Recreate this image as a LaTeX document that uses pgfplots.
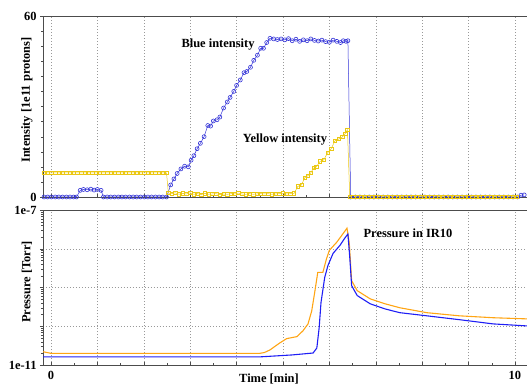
\documentclass[border=0pt]{standalone}
\usepackage{fontspec}
\setmainfont{Liberation Serif}
\usepackage{pgfplots}
\pgfplotsset{compat=1.18}
\definecolor{bl}{RGB}{50,50,215}
\definecolor{yl}{RGB}{235,200,20}
\definecolor{po}{RGB}{255,165,20}
\definecolor{pb}{RGB}{30,30,245}
\begin{document}
\begin{tikzpicture}
\path[use as bounding box] (0bp,0bp) rectangle (527bp,386bp);
\pgfplotsset{myax/.style={scale only axis, width=484bp, xmin=-0.172, xmax=10.26,
  axis x line*=box, axis y line*=left, xtick={0,...,10}, minor x tick num=1,
  xmajorgrids, grid style={dash pattern=on 0.8pt off 2.2pt, black!40},
  axis line style={black!70}, tick style={black!70},
  tick label style={font=\fontsize{12.5}{13}\selectfont\bfseries},
  xticklabel style={yshift=-3bp},
  /pgf/number format/assume math mode=true,
  xtick pos=bottom, ytick pos=left, xtick align=inside, ytick align=outside,
  major tick length=3bp, minor tick length=2bp, clip=false}}
% ---------- top panel ----------
\begin{axis}[myax, at={(43bp,189bp)}, anchor=south west, height=181bp,
  ymin=0, ymax=60, ytick={0,60}, minor ytick={5,10,...,55}, xticklabels={}]
\addplot[bl, line width=0.5pt, mark=o, mark size=2pt, mark options={line width=0.6pt}] coordinates {
(-0.15,0) (-0.07,0) (0.01,0) (0.09,0) (0.17,0) (0.25,0) (0.33,0) (0.41,0) (0.49,0) (0.55,0)
(0.63,2.2) (0.70,2.5) (0.78,2.4) (0.86,2.6) (0.93,2.3) (1.0,2.5) (1.08,2.2)
(1.13,0) (1.21,0) (1.29,0) (1.37,0) (1.45,0) (1.53,0) (1.61,0) (1.69,0) (1.77,0) (1.85,0)
(1.93,0) (2.01,0) (2.09,0) (2.17,0) (2.25,0) (2.33,0) (2.41,0) (2.49,0)
(2.58,4.0) (2.65,6.0) (2.72,7.8) (2.80,9.3) (2.88,10.2) (2.96,10.0) (3.02,12.2) (3.08,13.7)
(3.15,16.0) (3.22,17.8) (3.30,20.0) (3.38,23.7) (3.44,23.5) (3.50,25.2) (3.58,25.6) (3.64,26.5)
(3.72,29.5) (3.80,31.5) (3.86,33.0) (3.94,35.0) (4.00,37.0) (4.08,38.8) (4.16,41.2) (4.22,41.6)
(4.30,43.0) (4.37,45.3) (4.45,47.0) (4.52,49.3) (4.58,49.3) (4.65,51.2) (4.72,52.6) (4.80,52.4)
(4.88,52.2) (4.96,52.4) (5.04,52.1) (5.12,52.5) (5.20,51.8) (5.28,52.3) (5.36,51.6) (5.44,52.1)
(5.52,51.8) (5.60,52.4) (5.68,51.9) (5.76,51.7) (5.84,52.0) (5.92,51.5) (6.00,51.3) (6.08,52.0)
(6.16,51.6) (6.24,51.2) (6.30,51.8) (6.36,51.6) (6.40,51.8)
(6.46,0) (6.56,0) (6.66,0) (6.76,0) (6.86,0) (6.96,0) (7.06,0) (7.16,0) (7.26,0) (7.36,0)
(7.46,0) (7.56,0) (7.66,0) (7.76,0) (7.86,0) (7.96,0) (8.06,0) (8.16,0) (8.26,0) (8.36,0)
(8.46,0) (8.56,0) (8.66,0) (8.76,0) (8.86,0) (8.96,0) (9.06,0) (9.16,0) (9.26,0) (9.36,0)
(9.46,0) (9.56,0) (9.66,0) (9.76,0) (9.86,0) (9.96,0) (10.06,0) (10.13,0.6) (10.2,0.7)
};
\addplot[yl, line width=0.5pt, mark=square, mark size=1.7pt, mark options={line width=0.6pt}] coordinates {
(-0.15,8) (-0.07,8) (0.01,8) (0.09,8) (0.17,8) (0.25,8) (0.33,8) (0.41,8) (0.49,8) (0.57,8)
(0.65,8) (0.73,8) (0.81,8) (0.89,8) (0.97,8) (1.05,8) (1.13,8) (1.21,8) (1.29,8) (1.37,8)
(1.45,8) (1.53,8) (1.61,8) (1.69,8) (1.77,8) (1.85,8) (1.93,8) (2.01,8) (2.09,8) (2.17,8)
(2.25,8) (2.33,8) (2.41,8) (2.49,8)
(2.53,1.3) (2.60,1.1) (2.68,1.4) (2.76,0.9) (2.84,1.2) (2.92,1.0) (3.00,1.4) (3.08,0.9)
(3.16,1.1) (3.24,0.8) (3.32,1.2) (3.40,0.9) (3.48,1.0) (3.56,1.1) (3.64,0.8) (3.72,1.0)
(3.80,0.9) (3.88,1.1) (3.96,1.0) (4.04,1.3) (4.12,1.0) (4.20,0.9) (4.28,1.1) (4.36,0.9)
(4.44,1.0) (4.52,1.1) (4.60,1.0) (4.68,1.1) (4.76,0.9) (4.84,1.0) (4.92,1.1) (5.00,1.2)
(5.08,1.0) (5.16,1.1) (5.24,1.2)
(5.32,3.5) (5.40,4.0) (5.47,6.4) (5.53,7.0) (5.60,8.0) (5.66,9.6) (5.72,10.0) (5.80,11.8)
(5.88,12.3) (5.96,14.6) (6.04,16.0) (6.12,18.6) (6.20,19.2) (6.28,19.9) (6.34,21.0) (6.39,22.3)
(6.44,0) (6.52,0) (6.60,0) (6.68,0) (6.76,0) (6.84,0) (6.92,0) (7.00,0) (7.08,0) (7.16,0)
(7.24,0) (7.32,0) (7.40,0) (7.48,0) (7.56,0) (7.64,0) (7.72,0) (7.80,0) (7.88,0) (7.96,0)
(8.04,0) (8.12,0) (8.20,0) (8.28,0) (8.36,0) (8.44,0) (8.52,0) (8.60,0) (8.68,0) (8.76,0)
(8.84,0) (8.92,0) (9.00,0) (9.08,0) (9.16,0) (9.24,0) (9.32,0) (9.40,0) (9.48,0) (9.56,0)
(9.64,0) (9.72,0) (9.80,0) (9.88,0) (9.96,0) (10.04,0)
};
\end{axis}
% ---------- bottom panel ----------
\begin{axis}[myax, at={(43bp,21bp)}, anchor=south west, height=155bp,
  ymode=log, ymin=1e-11, ymax=1e-7,
  ytick={1e-11,1e-10,1e-9,1e-8,1e-7}, yticklabels={1e-11,,,,1e-7},
  minor ytick={2e-11,3e-11,4e-11,5e-11,6e-11,7e-11,8e-11,9e-11,
    2e-10,3e-10,4e-10,5e-10,6e-10,7e-10,8e-10,9e-10,
    2e-9,3e-9,4e-9,5e-9,6e-9,7e-9,8e-9,9e-9,
    2e-8,3e-8,4e-8,5e-8,6e-8,7e-8,8e-8,9e-8},
  ymajorgrids, xticklabels={0,,,,,,,,,,10}]
\addplot[po, line width=1.1pt] coordinates {
(-0.17,2.2e-11) (0,2.0e-11) (4.5,2.0e-11) (4.6,2.1e-11) (4.72,2.45e-11) (4.93,3.7e-11)
(5.08,4.8e-11) (5.3,5.4e-11) (5.43,7.6e-11) (5.54,1.15e-10) (5.62,2.5e-10) (5.69,8.3e-10)
(5.75,2.45e-9) (5.86,2.45e-9) (5.94,5.6e-9) (6.0,9.1e-9) (6.16,1.48e-8) (6.3,2.5e-8)
(6.38,3.4e-8) (6.43,1.38e-8) (6.48,1.5e-9) (6.6,8.3e-10) (6.88,5.1e-10) (7.2,3.8e-10)
(7.52,3.0e-10) (8.1,2.24e-10) (8.8,1.86e-10) (9.53,1.66e-10) (10.26,1.55e-10)
};
\addplot[pb, line width=1.1pt] coordinates {
(-0.17,1.62e-11) (4.5,1.62e-11) (5.2,1.82e-11) (5.65,2.04e-11) (5.73,2.75e-11) (5.78,9.1e-11)
(5.82,4.1e-10) (5.9,1.82e-9) (5.97,3.7e-9) (6.08,7.6e-9) (6.23,1.23e-8) (6.33,1.86e-8)
(6.4,2.4e-8) (6.44,6.0e-9) (6.48,1.12e-9) (6.6,6.2e-10) (6.88,3.8e-10) (7.2,2.8e-10)
(7.52,2.24e-10) (8.1,1.86e-10) (8.8,1.48e-10) (9.53,1.15e-10) (10.26,1.02e-10)
};
\end{axis}
% ---------- texts ----------
\begin{scope}[every node/.style={font=\fontsize{12.5}{13}\selectfont\bfseries}]
\node[rotate=90] at (27bp,286bp) {Intensity [1e11 protons]};
\node[rotate=90] at (27bp,104bp) {Pressure [Torr]};
\node at (269bp,7bp) {Time [min]};
\node at (218bp,341bp) {Blue intensity};
\node at (285bp,246bp) {Yellow intensity};
\node at (408bp,153bp) {Pressure in IR10};
\end{scope}
\end{tikzpicture}
\end{document}
